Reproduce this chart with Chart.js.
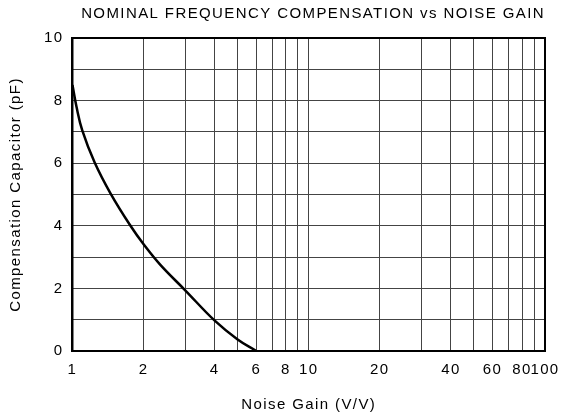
<!DOCTYPE html>
<html>
<head>
<meta charset="utf-8">
<script src="https://cdn.jsdelivr.net/npm/chart.js@4/dist/chart.umd.min.js"></script>
<style>
  html, body { margin: 0; padding: 0; background: #fff; }
  #wrap { width: 563px; height: 418px; }
</style>
</head>
<body>
<div id="wrap"><canvas id="c"></canvas></div>
<script>
// noise gain (V/V) and compensation capacitor (pF)
const noiseGain = [1, 1.04, 1.10, 1.24, 1.45, 1.76, 2, 2.35, 3, 4, 5, 6];
const compCap   = [8.5, 7.8, 7.05, 6.03, 5.03, 4.0, 3.41, 2.76, 1.94, 0.97, 0.37, 0];

const xGridValues = [1, 2, 3, 4, 5, 6, 7, 8, 9, 10, 20, 30, 40, 50, 60, 70, 80, 90, 100];
const xTickLabels = [1, 2, 4, 6, 8, 10, 20, 40, 60, 80, 100];
const yTickLabels = [0, 2, 4, 6, 8, 10];

const FONT = { family: 'Liberation Sans, Arial, sans-serif', size: 15, weight: 'normal' };
const LETTER_SPACING = '1.4px';

// the source text is set wide, so space the letters out a little
const spacing = {
  id: 'spacing',
  beforeUpdate(chart) { chart.ctx.letterSpacing = LETTER_SPACING; },
  beforeDraw(chart) { chart.ctx.letterSpacing = LETTER_SPACING; }
};

// box round the plot area
const frame = {
  id: 'frame',
  afterDraw(chart) {
    const { ctx, chartArea: a } = chart;
    ctx.save();
    ctx.strokeStyle = '#000';
    ctx.lineWidth = 2;
    ctx.strokeRect(a.left, a.top, a.right - a.left, a.bottom - a.top);
    ctx.restore();
  }
};

new Chart(document.getElementById('c'), {
  type: 'line',
  data: {
    datasets: [{
      data: noiseGain.map((g, i) => ({ x: g, y: compCap[i] })),
      borderColor: '#000',
      borderWidth: 2.5,
      pointRadius: 0,
      tension: 0.4,
      fill: false
    }]
  },
  options: {
    responsive: true,
    maintainAspectRatio: false,
    animation: false,
    layout: { padding: { left: 7, right: 18, top: 0, bottom: 4 } },
    plugins: {
      legend: { display: false },
      tooltip: { enabled: false },
      title: {
        display: true,
        text: 'NOMINAL FREQUENCY COMPENSATION vs NOISE GAIN',
        color: '#000',
        font: FONT,
        align: 'end',
        padding: { top: 5, bottom: 15 }
      }
    },
    scales: {
      x: {
        type: 'logarithmic',
        min: 1,
        max: 100,
        afterBuildTicks(axis) {
          axis.ticks = xGridValues.map(v => ({ value: v }));
        },
        afterFit(axis) {
          // let the "100" label hang into the right margin
          axis.paddingRight = 0;
          axis.paddingLeft = 0;
        },
        ticks: {
          color: '#000',
          font: FONT,
          maxRotation: 0,
          autoSkip: false,
          padding: 10,
          callback: v => xTickLabels.includes(v) ? String(v) : ''
        },
        grid: { color: '#444', lineWidth: 1, drawTicks: false },
        border: { color: '#000', width: 2 },
        title: { display: true, text: 'Noise Gain (V/V)', color: '#000', font: FONT, padding: { top: 7, bottom: 0 } }
      },
      y: {
        min: 0,
        max: 10,
        ticks: {
          stepSize: 1,
          color: '#000',
          font: FONT,
          padding: 9,
          callback: v => yTickLabels.includes(v) ? String(v) : ''
        },
        grid: { color: '#444', lineWidth: 1, drawTicks: false },
        border: { color: '#000', width: 2 },
        title: { display: true, text: 'Compensation Capacitor (pF)', color: '#000', font: FONT, padding: { top: 0, bottom: 10 } }
      }
    }
  },
  plugins: [spacing, frame]
});
</script>
</body>
</html>
